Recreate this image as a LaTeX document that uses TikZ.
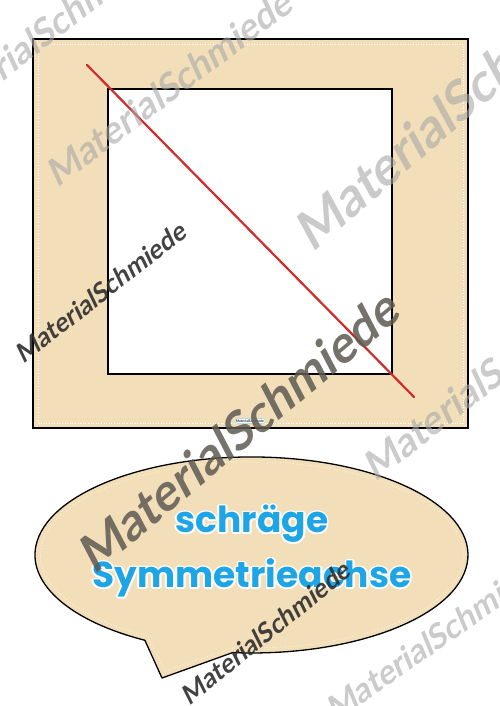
\documentclass[tikz,border=0pt]{standalone}
\usepackage{fontspec}
\setmainfont{Lato}
\newfontfamily\bubblefont{Poppins}
\newfontfamily\wmfont{Lato}[FakeSlant=0.22]
\usetikzlibrary{calc}
\definecolor{beige}{HTML}{F2DFB9}
\definecolor{skyblue}{HTML}{1EA5E6}
\definecolor{redline}{HTML}{D12B2B}
\definecolor{wmlight}{HTML}{A8A8A8}
\definecolor{wmdark}{HTML}{2E2E2E}
\definecolor{wmbrown}{HTML}{5E5A52}
\newcommand\wmword{MaterialSchmiede}
\newcommand\bubbletext[1]{\bubblefont\bfseries\fontsize{36}{36}\selectfont #1}
\tikzset{
  frame/.style={fill=beige, draw=black, line width=1.1pt},
  innersq/.style={fill=white, draw=black, line width=2.8pt},
  stitch/.style={draw=white, dotted, line width=0.6pt},
  axis/.style={draw=redline, line width=2.2pt, line cap=round},
  bubble/.style={fill=beige, draw=black, line width=1.3pt, line join=round},
  wm/.style={font=\wmfont\bfseries\fontsize{#1}{#1}\selectfont, inner sep=0pt},
  wml/.style={text=wmlight, text opacity=0.6},
  wmd/.style={text=wmdark, text opacity=0.9},
  wmb/.style={text=wmbrown, text opacity=0.85},
  btxt/.style={inner sep=0pt, anchor=base},
}
\begin{document}
\begin{tikzpicture}[x=1pt,y=1pt]
\useasboundingbox (0,0) rectangle (500,706);
% frame
\path[frame] (33,278) rectangle (468,667);
\path[stitch] (38,283) rectangle (463,662);
\path[innersq] (108,332) rectangle (392,617);
\coordinate (r1) at (87,641);
\coordinate (r2) at (414,309);
\draw[axis] (r1) -- (r2);
% small logo
\node[draw=skyblue!50, fill=white, rounded corners=2pt, inner sep=1pt, font=\fontsize{3.5}{4}\selectfont\bfseries, text=wmdark] (logo) at (250,285) {\wmword};
% speech bubble
\path[bubble] (232.6,53.4) arc[start angle=265, end angle=600.5, x radius=216.5, y radius=98] -- (162,28) -- cycle;
\path[stitch] (233.5,58.4) arc[start angle=265, end angle=600.5, x radius=211.5, y radius=93] -- (164.5,35) -- cycle;
% bubble text
\foreach \t/\yy [count=\i] in {schräge/173, Symmetrieachse/118}{
  \node[btxt, text=black!40] at (252,\yy-2) {\bubbletext{\t}};
  \foreach \a in {0,30,...,330}{
    \node[btxt, text=white] at ($(252,\yy)+(\a:1.8)$) {\bubbletext{\t}};
  }
  \node[btxt, text=skyblue] (bt\i) at (252,\yy) {\bubbletext{\t}};
}
% watermarks
\node[wm=37, wml, rotate=38] (w1) at (43,673) {\wmword};
\node[wm=37, wml, rotate=37] (w2) at (168,618) {\wmword};
\node[wm=52, wml, rotate=41] (w3) at (458,604) {\wmword};
\node[wm=26, wmd, rotate=38] (w4) at (100,413) {\wmword};
\node[wm=50, wmb, rotate=40] (w5) at (237,274) {\wmword};
\node[wm=39, wml, rotate=38] (w6) at (490,331) {\wmword};
\node[wm=26, wmd, rotate=39] (w7) at (265,73) {\wmword};
\node[wm=33, wml, rotate=35] (w8) at (437,69) {\wmword};
\end{tikzpicture}
\end{document}
